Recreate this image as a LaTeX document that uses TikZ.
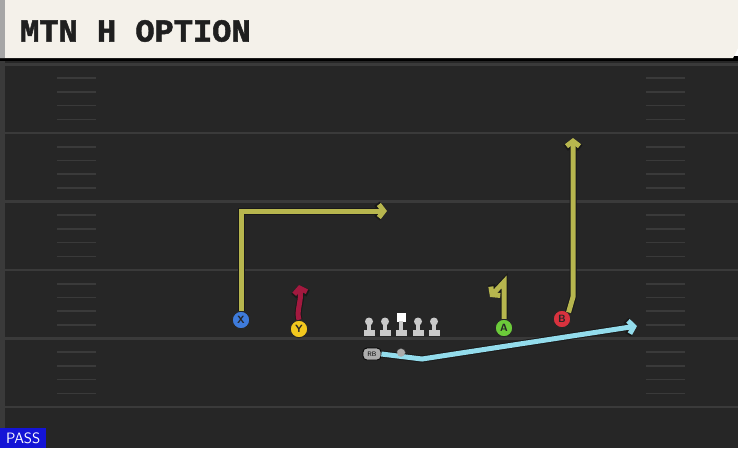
\documentclass[tikz,border=0pt]{standalone}
\usepackage{fontspec}
\setmainfont{Liberation Sans}
\newfontfamily\titlefont{Liberation Mono Bold}[FakeBold=1.6]
\usetikzlibrary{arrows.meta}

\definecolor{fieldbg}{HTML}{262626}
\definecolor{fieldline}{HTML}{3A3A3A}
\definecolor{headbg}{HTML}{F4F1EA}
\definecolor{routeolive}{HTML}{B7B64E}
\definecolor{routered}{HTML}{A3193F}
\definecolor{routeblue}{HTML}{93DCEC}
\definecolor{plX}{HTML}{3E7BDB}
\definecolor{plY}{HTML}{F2C81E}
\definecolor{plA}{HTML}{6CCB3A}
\definecolor{plB}{HTML}{D8323E}
\definecolor{linegray}{HTML}{C9C9C9}
\definecolor{passblue}{HTML}{1414D6}

\tikzset{
  player/.style={circle, draw=black!85, line width=1pt, minimum size=17.5pt, inner sep=0pt,
    font=\sffamily\bfseries\fontsize{10.5}{10.5}\selectfont, text=black!85},
  route/.style={line width=5pt, line cap=butt, line join=miter,
    -{Straight Barb[length=5pt,width=13pt]},
    preaction={draw=black!90, line width=7pt, -{Straight Barb[length=5.6pt,width=14.5pt]}}},
  hash/.style={fieldline, line width=1.6pt}
}

\begin{document}
\begin{tikzpicture}[x=1pt,y=-1pt]
\useasboundingbox (0,0) rectangle (738,448);

% field
\fill[fieldbg] (0,58) rectangle (738,448);
\fill[fieldline] (0,58) rectangle (5,448);
\foreach \yl in {64.5,133,201.5,270,338.5,407}
  \draw[fieldline, line width=2.4pt] (5,\yl) -- (738,\yl);
\foreach \yl in {64.5,133,201.5,270,338.5}
  \foreach \j in {1,2,3,4} {
    \draw[hash] (57,\yl+13.7*\j) -- (96,\yl+13.7*\j);
    \draw[hash] (646,\yl+13.7*\j) -- (685,\yl+13.7*\j);
  }

% header
\fill[black] (0,56) rectangle (738,61);
\fill[headbg] (0,0) -- (738,0) -- (738,48) -- (733,58) -- (0,58) -- cycle;
\fill[gray!70] (0,0) rectangle (5,58);
\node[anchor=west, font=\titlefont\fontsize{32}{32}\selectfont, text=black!88, inner sep=0pt] (title) at (20,31) {MTN H OPTION};

% players
\node[player, fill=plX] (pX) at (241,320) {X};
\node[player, fill=plY] (pY) at (299,329) {Y};
\node[player, fill=plA] (pA) at (504,328) {A};
\node[player, fill=plB] (pB) at (562,319) {B};
\node[draw=black, line width=0.8pt, fill=gray!65, rounded corners=4pt, minimum width=18pt, minimum height=12pt, inner sep=0pt,
  font=\sffamily\fontsize{6.5}{6.5}\selectfont] (pRB) at (372,354) {RB};
\node[circle, fill=gray!65, draw=black!70, minimum size=9pt, inner sep=0pt] (pQB) at (401,353) {};

% line
\foreach \lx in {369,385,418,434} {
  \fill[linegray] (\lx,321.5) circle (4);
  \fill[linegray] (\lx-2,321) rectangle (\lx+2,331);
  \fill[linegray] (\lx-5.5,330) rectangle (\lx+5.5,335.5);
}
\fill[white] (397,313) rectangle (405.5,321.5);
\fill[linegray] (399.2,321) rectangle (403.2,331);
\fill[linegray] (395.7,330) rectangle (406.7,335.5);

% routes
\coordinate (xTop) at (241,211);
\coordinate (xEnd) at (387,211);
\draw[route, routeolive] (pX.north) -- (xTop) -- (xEnd);

\coordinate (yEnd) at (299,285);
\draw[route, routered] (pY.north) .. controls (296,311) and (302,300) .. (yEnd);

\coordinate (aTop) at (504,282);
\coordinate (aEnd) at (490,297);
\draw[route, routeolive] (pA.north) -- (aTop) -- (aEnd);

\coordinate (bBreak) at (573,297);
\coordinate (bEnd) at (573,138);
\draw[route, routeolive] (pB.north east) -- (bBreak) -- (bEnd);

\coordinate (rbLow) at (422,359);
\coordinate (rbEnd) at (637,326);
\draw[route, routeblue] (pRB.east) -- (rbLow) -- (rbEnd);
\fill[gray!65] (pQB) circle (3.8);

% play type
\node[fill=passblue, text=white, anchor=south west, minimum width=46pt, minimum height=20pt, inner sep=0pt,
  font=\sffamily\fontsize{15}{15}\selectfont] (ptype) at (0,448) {PASS};
\end{tikzpicture}
\end{document}
